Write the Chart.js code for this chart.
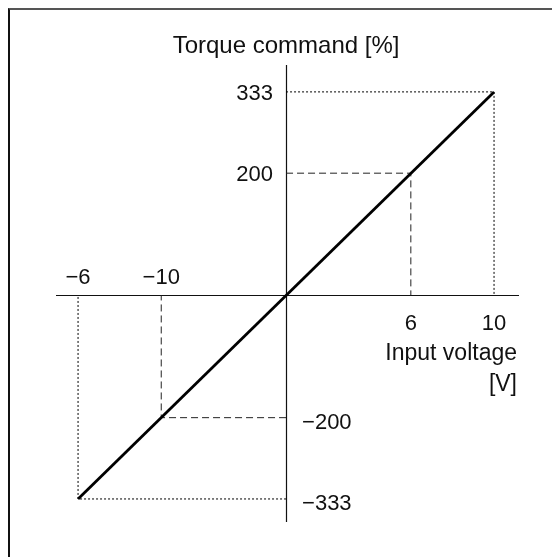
<!DOCTYPE html>
<html>
<head>
<meta charset="utf-8">
<script src="https://cdn.jsdelivr.net/npm/chart.js@4"></script>
<style>
  html, body { margin: 0; padding: 0; background: #fff; }
  #wrap { position: relative; width: 552px; height: 557px; }
  #frame {
    position: absolute; left: 8px; top: 8px; right: 0; bottom: 0;
    border-top: 2px solid #555; border-left: 2px solid #111;
    pointer-events: none;
  }
  canvas { position: absolute; left: 0; top: 0; }
</style>
</head>
<body>
<div id="wrap">
  <canvas id="chart" width="552" height="557"></canvas>
  <div id="frame"></div>
</div>
<script>
// Characteristic line: input voltage [V] -> torque command [%]
const lineVolts = [-10, 10];
const lineTorque = [-333, 333];

// Guide lines drawn back to the axes
const dottedVolts = [10, -10];
const dottedTorque = [333, -333];
const dashedVolts = [6, -6];
const dashedTorque = [200, -200];

// Tick labels placed by hand along the crossing axes
const xTickValues = [-10, -6, 6, 10];
const xTickLabels = ['\u22126', '\u221210', '6', '10'];
const yTickValues = [333, 200, -200, -333];
const yTickLabels = ['333', '200', '\u2212200', '\u2212333'];

const FONT = '"Liberation Sans", Arial, Helvetica, sans-serif';
const INK = '#111';

function guidePath(v, t) {
    return [{ x: 0, y: t }, { x: v, y: t }, { x: v, y: 0 }];
}

function guideSet(v, t, dash, color) {
    return {
        data: guidePath(v, t),
        borderColor: color,
        borderWidth: 1,
        borderDash: dash,
        pointRadius: 0,
        tension: 0,
        order: 2
    };
}

const datasets = [
    ...dottedVolts.map((v, i) => guideSet(v, dottedTorque[i], [2, 2], '#000')),
    ...dashedVolts.map((v, i) => guideSet(v, dashedTorque[i], [7, 4], '#222')),
    {
        data: lineVolts.map((v, i) => ({ x: v, y: lineTorque[i] })),
        borderColor: '#000',
        borderWidth: 2.8,
        pointRadius: 0,
        order: 1
    }
];

// Axes cross at the origin, labels sit on either side of them
const crossAxes = {
    id: 'crossAxes',
    beforeDatasetsDraw(chart) {
        const { ctx, chartArea, scales: { x, y } } = chart;
        const x0 = Math.round(x.getPixelForValue(0)) + 0.5;
        const y0 = Math.round(y.getPixelForValue(0)) + 0.5;
        ctx.save();
        ctx.strokeStyle = '#111';
        ctx.lineWidth = 1.2;
        ctx.beginPath();
        ctx.moveTo(chartArea.left, y0);
        ctx.lineTo(chartArea.right, y0);
        ctx.moveTo(x0, chartArea.top);
        ctx.lineTo(x0, chartArea.bottom);
        ctx.stroke();
        ctx.restore();
    },
    afterDraw(chart) {
        const { ctx, scales: { x, y } } = chart;
        const x0 = x.getPixelForValue(0);
        const y0 = y.getPixelForValue(0);
        ctx.save();
        ctx.fillStyle = INK;
        ctx.font = '22px ' + FONT;

        ctx.textAlign = 'center';
        ctx.textBaseline = 'alphabetic';
        xTickValues.forEach((v, i) => {
            const px = x.getPixelForValue(v);
            ctx.fillText(xTickLabels[i], px, v < 0 ? y0 - 11 : y0 + 35);
        });

        ctx.textBaseline = 'middle';
        yTickValues.forEach((v, i) => {
            const py = y.getPixelForValue(v);
            if (v > 0) {
                ctx.textAlign = 'right';
                ctx.fillText(yTickLabels[i], x0 - 13, py + 2);
            } else {
                ctx.textAlign = 'left';
                ctx.fillText(yTickLabels[i], x0 + 16, py + 5);
            }
        });

        ctx.textBaseline = 'alphabetic';
        ctx.textAlign = 'center';
        ctx.font = '24px ' + FONT;
        ctx.fillText('Torque command [%]', x0, 53);

        ctx.textAlign = 'right';
        ctx.font = '23px ' + FONT;
        ctx.fillText('Input voltage', 517, 360);
        ctx.fillText('[V]', 517, 391);
        ctx.restore();
    }
};

new Chart(document.getElementById('chart'), {
    type: 'line',
    data: { datasets },
    options: {
        responsive: false,
        animation: false,
        devicePixelRatio: 1,
        layout: { padding: { left: 56, right: 33, top: 65, bottom: 35 } },
        plugins: { legend: { display: false }, tooltip: { enabled: false } },
        scales: {
            x: { type: 'linear', min: -11.06, max: 11.2, display: false },
            y: { type: 'linear', min: -370.7, max: 377, display: false }
        }
    },
    plugins: [crossAxes]
});
</script>
</body>
</html>
